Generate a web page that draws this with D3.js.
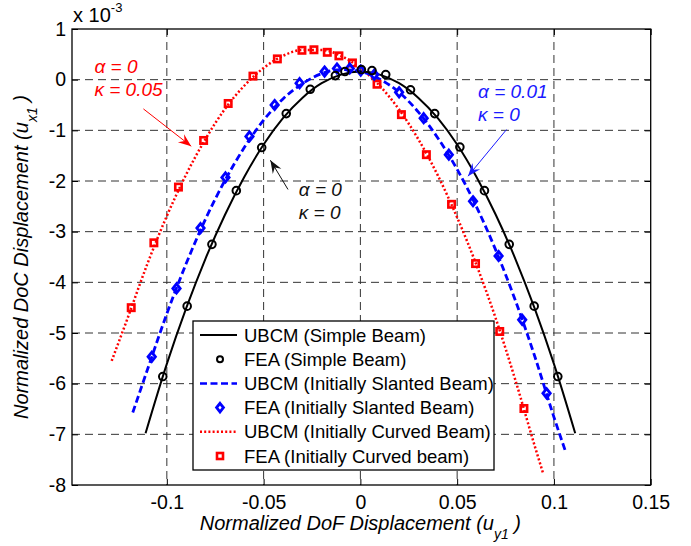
<!DOCTYPE html>
<meta http-equiv="Content-type" content="text/html; charset=UTF-8"/>
<svg width="691" height="546"></svg>
<script src="https://d3js.org/d3.v7.min.js"></script>
<style>
  body { margin: 0; background: #fff; }
  * { font-family: 'Liberation Sans', Arial, sans-serif; }
</style>
<script>
// tick labels
var xTicks = [-0.1, -0.05, 0, 0.05, 0.1, 0.15];
var yTicks = [1, 0, -1, -2, -3, -4, -5, -6, -7, -8];
var xGrid = [-0.1, -0.05, 0, 0.05, 0.1];
var yGrid = [0, -1, -2, -3, -4, -5, -6, -7];

// UBCM, simple beam
var simpleLineX = [-0.111, -0.10, -0.09, -0.08, -0.07, -0.06, -0.05, -0.04, -0.03, -0.02, -0.01, 0, 0.01, 0.02, 0.03, 0.04, 0.05, 0.06, 0.07, 0.08, 0.09, 0.10, 0.111];
var simpleLineY = [-6.98, -5.61, -4.51, -3.53, -2.67, -1.92, -1.28, -0.76, -0.36, -0.07, 0.10, 0.16, 0.10, -0.07, -0.36, -0.76, -1.28, -1.92, -2.67, -3.53, -4.51, -5.61, -6.98];
// FEA, simple beam
var simpleFeaX = [-0.1021, -0.0895, -0.0767, -0.0641, -0.0510, -0.0383, -0.0259, -0.0129, -0.0080, 0.0005, 0.0060, 0.0131, 0.0259, 0.0384, 0.0514, 0.0641, 0.0769, 0.0898, 0.1020];
var simpleFeaY = [-5.86, -4.47, -3.25, -2.19, -1.34, -0.67, -0.19, 0.08, 0.16, 0.20, 0.18, 0.10, -0.20, -0.67, -1.33, -2.19, -3.25, -4.47, -5.86];

// UBCM, initially slanted beam
var slantLineX = [-0.1176, -0.11, -0.10, -0.09, -0.08, -0.07, -0.06, -0.05, -0.04, -0.03, -0.02, -0.01, 0, 0.01, 0.02, 0.03, 0.04, 0.05, 0.06, 0.07, 0.08, 0.09, 0.10, 0.1062];
var slantLineY = [-6.57, -5.72, -4.62, -3.63, -2.75, -1.99, -1.34, -0.80, -0.38, -0.08, 0.12, 0.20, 0.16, 0.01, -0.25, -0.64, -1.15, -1.77, -2.51, -3.37, -4.35, -5.45, -6.66, -7.36];
// FEA, initially slanted beam
var slantFeaX = [-0.1078, -0.0950, -0.0826, -0.0697, -0.0573, -0.0443, -0.0314, -0.0185, -0.0121, -0.0055, 0.0002, 0.0072, 0.0200, 0.0327, 0.0457, 0.0582, 0.0714, 0.0836, 0.0962];
var slantFeaY = [-5.47, -4.12, -2.93, -1.93, -1.12, -0.50, -0.07, 0.16, 0.22, 0.22, 0.18, 0.10, -0.25, -0.76, -1.48, -2.40, -3.48, -4.74, -6.19];

// UBCM, initially curved beam
var curvedLineX = [-0.1285, -0.12, -0.11, -0.10, -0.09, -0.08, -0.07, -0.06, -0.05, -0.04, -0.03, -0.02, -0.01, 0, 0.01, 0.02, 0.03, 0.04, 0.05, 0.06, 0.07, 0.08, 0.09, 0.0944];
var curvedLineY = [-5.55, -4.68, -3.63, -2.69, -1.87, -1.17, -0.58, -0.12, 0.23, 0.47, 0.585, 0.585, 0.47, 0.23, -0.12, -0.59, -1.18, -1.89, -2.72, -3.66, -4.72, -5.92, -7.22, -7.77];
// FEA, initially curved beam
var curvedFeaX = [-0.1184, -0.1067, -0.0940, -0.0810, -0.0683, -0.0555, -0.0429, -0.0302, -0.0240, -0.0171, -0.0111, -0.0041, 0.0086, 0.0212, 0.0341, 0.0471, 0.0595, 0.0720, 0.0845];
var curvedFeaY = [-4.50, -3.22, -2.12, -1.20, -0.47, 0.07, 0.41, 0.58, 0.59, 0.54, 0.47, 0.33, -0.09, -0.69, -1.48, -2.46, -3.63, -4.97, -6.49];

var legendLabels = ["UBCM (Simple Beam)", "FEA (Simple Beam)", "UBCM (Initially Slanted Beam)",
  "FEA (Initially Slanted Beam)", "UBCM (Initially Curved Beam)", "FEA (Initially Curved beam)"];

// annotations: two text lines, arrow from -> to (data units)
var noteLines = [["\u03b1 = 0", "\u03ba = 0.05"], ["\u03b1 = 0", "\u03ba = 0"], ["\u03b1 = 0.01", "\u03ba = 0"]];
var noteTextX = [-0.1374, -0.0318, 0.0608];
var noteTextY = [0.13, -2.30, -0.36];
var noteFrom = [[-0.1121, -0.577], [-0.0374, -2.167], [0.0755, -0.985]];
var noteTo = [[-0.0874, -1.314], [-0.0465, -1.590], [0.0556, -1.905]];

var svg = d3.select("svg"),
    plotL = 72, plotT = 29, plotR = 650.7, plotB = 485;

var x = d3.scaleLinear().domain([-0.149, 0.15]).range([plotL, plotR]);
var y = d3.scaleLinear().domain([-8, 1]).range([plotB, plotT]);

var red = "#ff0000", blue = "#0000ff", black = "#000";

// grid
svg.append("g").selectAll("line").data(xGrid).join("line")
    .attr("x1", d => x(d)).attr("x2", d => x(d))
    .attr("y1", plotT).attr("y2", plotB)
    .attr("stroke", "#333").attr("stroke-dasharray", "8,5");
svg.append("g").selectAll("line").data(yGrid).join("line")
    .attr("x1", plotL).attr("x2", plotR)
    .attr("y1", d => y(d)).attr("y2", d => y(d))
    .attr("stroke", "#333").attr("stroke-dasharray", "8,5");

// axes, ticks inside
function styleAxis(g) {
  g.select(".domain").remove();
  g.selectAll("text").style("font-size", "19.5px").attr("fill", "#000");
  g.selectAll("line").attr("stroke", "#000");
}
svg.append("g").attr("transform", "translate(0," + plotB + ")")
    .call(d3.axisBottom(x).tickValues(xTicks).tickFormat(d => String(d)).tickSize(-6).tickPadding(10))
    .call(styleAxis);
svg.append("g").attr("transform", "translate(0," + plotT + ")")
    .call(d3.axisTop(x).tickValues(xTicks).tickFormat("").tickSize(-6))
    .call(styleAxis);
svg.append("g").attr("transform", "translate(" + plotL + ",0)")
    .call(d3.axisLeft(y).tickValues(yTicks).tickFormat(d => String(d)).tickSize(-6).tickPadding(6))
    .call(styleAxis);
svg.append("g").attr("transform", "translate(" + plotR + ",0)")
    .call(d3.axisRight(y).tickValues(yTicks).tickFormat("").tickSize(-6))
    .call(styleAxis);

svg.append("rect")
    .attr("x", plotL).attr("y", plotT)
    .attr("width", plotR - plotL).attr("height", plotB - plotT)
    .attr("fill", "none").attr("stroke", "#000").attr("stroke-width", 1.3);

// exponent label
var ex = svg.append("text").attr("x", plotL + 1).attr("y", 22).style("font-size", "20px").text("x 10");
ex.append("tspan").attr("dy", -10).style("font-size", "13px").text("-3");

// lines
var line = d3.line().x(d => x(d[0])).y(d => y(d[1])).curve(d3.curveMonotoneX);
function pairs(xs, ys) { return xs.map((v, i) => [v, ys[i]]); }

svg.append("path").datum(pairs(curvedLineX, curvedLineY))
    .attr("fill", "none").attr("stroke", red).attr("stroke-width", 2.5)
    .attr("stroke-dasharray", "2,2.2").attr("d", line);
svg.append("path").datum(pairs(slantLineX, slantLineY))
    .attr("fill", "none").attr("stroke", blue).attr("stroke-width", 2.8)
    .attr("stroke-dasharray", "7,3.5").attr("d", line);
svg.append("path").datum(pairs(simpleLineX, simpleLineY))
    .attr("fill", "none").attr("stroke", black).attr("stroke-width", 2).attr("d", line);

// markers
function circleM(g, cx, cy, r) {
  g.append("circle").attr("cx", cx).attr("cy", cy).attr("r", r)
    .attr("fill", "none").attr("stroke", black).attr("stroke-width", 2);
}
function diamondM(g, cx, cy, r) {
  g.append("path").attr("d", "M" + cx + "," + (cy - r) + "L" + (cx + r * 0.8) + "," + cy + "L" + cx + "," + (cy + r) + "L" + (cx - r * 0.8) + "," + cy + "Z")
    .attr("fill", "none").attr("stroke", blue).attr("stroke-width", 2.8);
}
function squareM(g, cx, cy, r) {
  g.append("rect").attr("x", cx - r).attr("y", cy - r).attr("width", 2 * r).attr("height", 2 * r)
    .attr("fill", "none").attr("stroke", red).attr("stroke-width", 2.6);
}
var mk = svg.append("g");
curvedFeaX.forEach((v, i) => squareM(mk, x(v), y(curvedFeaY[i]), 3.2));
slantFeaX.forEach((v, i) => diamondM(mk, x(v), y(slantFeaY[i]), 4.6));
simpleFeaX.forEach((v, i) => circleM(mk, x(v), y(simpleFeaY[i]), 3.8));

// annotations
var noteColors = [red, "#111", "#1a1aff"];
noteLines.forEach(function(lines, i) {
  var t = svg.append("text").attr("fill", noteColors[i]).style("font-size", "19px").style("font-style", "italic");
  lines.forEach(function(s, j) {
    t.append("tspan").attr("x", x(noteTextX[i])).attr("y", y(noteTextY[i]) + j * 23).text(s);
  });
  var x0 = x(noteFrom[i][0]), y0 = y(noteFrom[i][1]), x1 = x(noteTo[i][0]), y1 = y(noteTo[i][1]);
  svg.append("line").attr("x1", x0).attr("y1", y0).attr("x2", x1).attr("y2", y1)
      .attr("stroke", noteColors[i]).attr("stroke-width", 1);
  var a = Math.atan2(y1 - y0, x1 - x0), L = 13, Wd = 5;
  var bx = x1 - L * Math.cos(a), by = y1 - L * Math.sin(a);
  var nx = x1 - L * 0.65 * Math.cos(a), ny = y1 - L * 0.65 * Math.sin(a);
  var px = -Math.sin(a) * Wd, py = Math.cos(a) * Wd;
  svg.append("path")
      .attr("d", "M" + x1 + "," + y1 + "L" + (bx + px) + "," + (by + py) + "L" + nx + "," + ny + "L" + (bx - px) + "," + (by - py) + "Z")
      .attr("fill", noteColors[i]);
});

// axis labels
var xl = svg.append("text").attr("x", x(0)).attr("y", 530).attr("text-anchor", "middle")
    .style("font-size", "20px").style("font-style", "italic").text("Normalized DoF Displacement (u");
xl.append("tspan").attr("dy", 9).style("font-size", "14px").text("y1");
xl.append("tspan").attr("dy", -9).text(" )");

var yl = svg.append("text").attr("transform", "rotate(-90)")
    .attr("x", -(plotT + plotB) / 2).attr("y", 28).attr("text-anchor", "middle")
    .style("font-size", "20px").style("font-style", "italic").text("Normalized DoC Displacement (u");
yl.append("tspan").attr("dy", 9).style("font-size", "14px").text("x1");
yl.append("tspan").attr("dy", -9).text(" )");

// legend
var lg = svg.append("g");
lg.append("rect").attr("x", 193).attr("y", 321).attr("width", 301).attr("height", 149)
    .attr("fill", "#fff").attr("stroke", "#000").attr("stroke-width", 1.3);
var rowY = d3.scaleLinear().domain([0, 5]).range([335, 456]);
legendLabels.forEach(function(s, i) {
  var cy = rowY(i);
  if (i === 0) lg.append("line").attr("x1", 200).attr("x2", 237).attr("y1", cy).attr("y2", cy).attr("stroke", black).attr("stroke-width", 2);
  if (i === 1) circleM(lg, 220, cy, 3);
  if (i === 2) lg.append("line").attr("x1", 200).attr("x2", 237).attr("y1", cy).attr("y2", cy).attr("stroke", blue).attr("stroke-width", 2.5).attr("stroke-dasharray", "7,3.5");
  if (i === 3) diamondM(lg, 220, cy, 4.3);
  if (i === 4) lg.append("line").attr("x1", 200).attr("x2", 237).attr("y1", cy).attr("y2", cy).attr("stroke", red).attr("stroke-width", 2.5).attr("stroke-dasharray", "2,2.2");
  if (i === 5) squareM(lg, 220, cy, 3);
  lg.append("text").attr("x", 244).attr("y", cy).attr("dy", "0.36em").style("font-size", "18.5px").text(s);
});
</script>
